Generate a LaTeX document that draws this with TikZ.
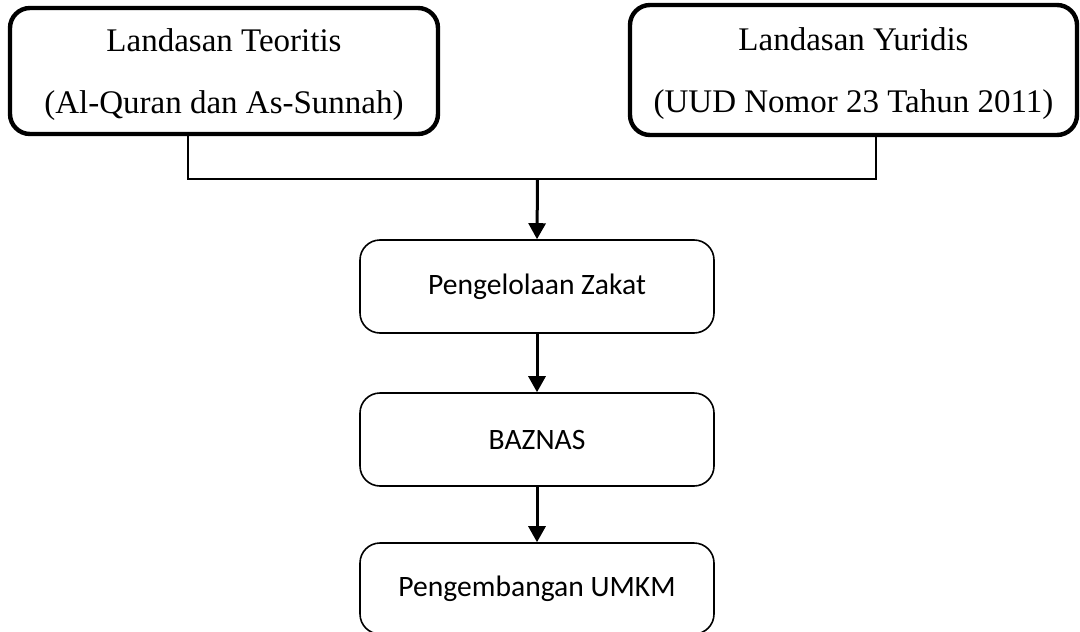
\documentclass[tikz,border=0pt]{standalone}
\usepackage{fontspec}
\setmainfont{Liberation Serif}
\newfontfamily\calibri{Carlito}
\usetikzlibrary{arrows.meta}

\begin{document}
\begin{tikzpicture}[x=0.5pt,y=-0.5pt,
        dasar/.style={draw, line width=2.2pt, rounded corners=10pt, align=center,
                      font=\fontsize{16.5}{31}\selectfont, inner sep=0pt, text depth=0pt},
        proses/.style={draw, line width=0.8pt, rounded corners=10pt,
                       minimum width=177pt, minimum height=46.5pt,
                       font=\calibri\fontsize{14.8}{17}\selectfont, inner sep=0pt},
        garis/.style={line width=0.7pt},
        panah/.style={line width=1.5pt, -{Triangle[width=8.5pt,length=8pt]}}]
        \useasboundingbox (0,0) rectangle (1080,631);
        % landasan
        \node [dasar, minimum width=214pt, minimum height=63pt] (teori) at (224,71)
              {Landasan Teoritis\\(Al-Quran dan As-Sunnah)};
        \node [dasar, minimum width=223.5pt, minimum height=65pt] (yuridis) at (853.5,70)
              {Landasan Yuridis\\(UUD Nomor 23 Tahun 2011)};
        % alur
        \node [proses] (zakat) at (537,286.5) {Pengelolaan Zakat};
        \node [proses] (baznas) at (537,439.5) {BAZNAS};
        \node [proses, minimum height=45.5pt] (umkm) at (537,588.5) {Pengembangan UMKM};
        % garis penghubung
        \coordinate (kiri) at (188,179);
        \coordinate (kanan) at (876,179);
        \coordinate (tengah) at (537.5,179);
        \draw[garis] (teori.south -| kiri) -- (kiri) -- (kanan) -- (yuridis.south -| kanan);
        \draw[panah] (tengah) -- (zakat.north);
        \draw[panah] (zakat) -- (baznas);
        \draw[panah] (baznas) -- (umkm);
    \end{tikzpicture}
\end{document}
